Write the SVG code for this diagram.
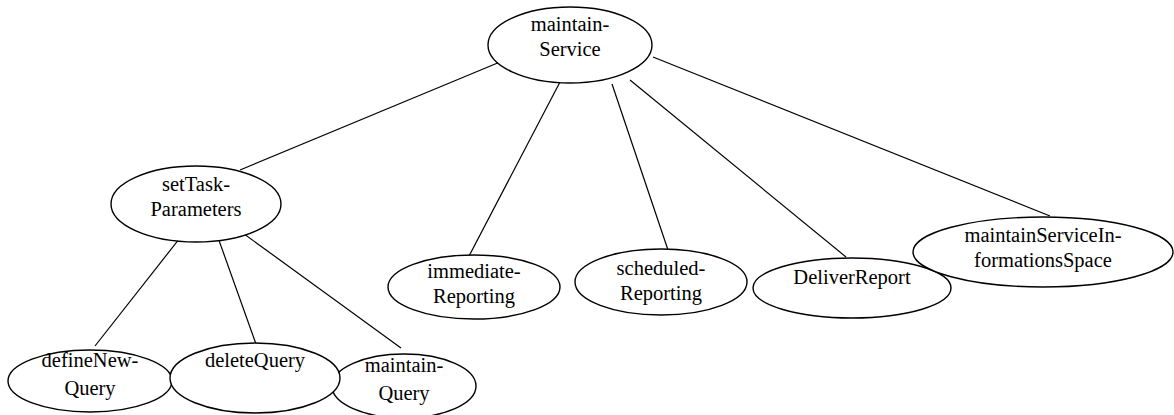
<svg xmlns="http://www.w3.org/2000/svg" width="1174" height="415" viewBox="0 0 1174 415">
  <style>
    .node ellipse { fill: #ffffff; stroke: #000000; stroke-width: 1.4; }
    .node text { font-size: 20.5px; fill: #000000; text-anchor: middle; }
    #edges line { stroke: #000000; stroke-width: 1.2; }
  </style>
  <rect width="1174" height="415" fill="#ffffff"/>

  <!-- connectors -->
  <g id="edges">
    <line x1="500" y1="62" x2="240" y2="170"/>
    <line x1="560" y1="82" x2="468" y2="258"/>
    <line x1="612" y1="84" x2="668" y2="250"/>
    <line x1="630" y1="80" x2="846" y2="257"/>
    <line x1="653" y1="57" x2="1050" y2="216"/>
    <line x1="187" y1="229" x2="95" y2="346"/>
    <line x1="216" y1="232" x2="256" y2="344"/>
    <line x1="240" y1="231" x2="401" y2="348"/>
  </g>

  <!-- nodes -->
  <g font-family="Liberation Serif, Tinos, Times New Roman, serif">
  <g id="maintainService" class="node">
    <ellipse cx="570" cy="45" rx="82" ry="38"/>
    <text x="570" y="31">maintain-</text>
    <text x="570" y="56">Service</text>
  </g>

  <g id="setTaskParameters" class="node">
    <ellipse cx="196" cy="204" rx="85" ry="38"/>
    <text x="196" y="191">setTask-</text>
    <text x="196" y="216">Parameters</text>
  </g>

  <g id="immediateReporting" class="node">
    <ellipse cx="474" cy="287" rx="86" ry="32"/>
    <text x="474" y="278">immediate-</text>
    <text x="474" y="303">Reporting</text>
  </g>

  <g id="scheduledReporting" class="node">
    <ellipse cx="661" cy="282" rx="86" ry="33"/>
    <text x="661" y="275">scheduled-</text>
    <text x="661" y="300">Reporting</text>
  </g>

  <g id="deliverReport" class="node">
    <ellipse cx="852" cy="288" rx="99" ry="30"/>
    <text x="852" y="284">DeliverReport</text>
  </g>

  <g id="maintainServiceInformationsSpace" class="node">
    <ellipse cx="1043" cy="252" rx="130" ry="35"/>
    <text x="1043" y="242">maintainServiceIn-</text>
    <text x="1043" y="267">formationsSpace</text>
  </g>

  <g id="defineNewQuery" class="node">
    <ellipse cx="90" cy="381" rx="82" ry="31"/>
    <text x="90" y="367">defineNew-</text>
    <text x="90" y="395">Query</text>
  </g>

  <g id="maintainQuery" class="node">
    <ellipse cx="404" cy="386" rx="72" ry="32"/>
    <text x="404" y="372">maintain-</text>
    <text x="404" y="400">Query</text>
  </g>

  <g id="deleteQuery" class="node">
    <ellipse cx="255" cy="378" rx="85" ry="35"/>
    <text x="255" y="367">deleteQuery</text>
  </g>
  </g>
</svg>
